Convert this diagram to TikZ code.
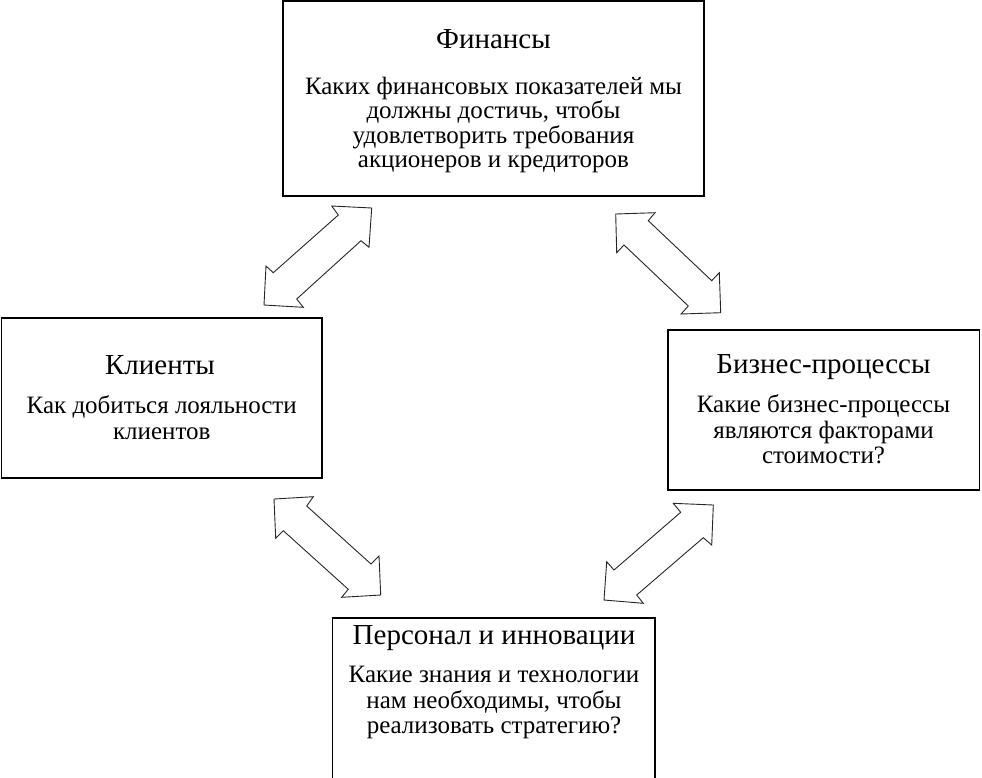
\documentclass[tikz,border=0pt]{standalone}
\usepackage{fontspec}
\setmainfont{Liberation Serif}
\begin{document}
\begin{tikzpicture}[x=1pt,y=-1pt,
  box/.style={draw=black, line width=1.5pt, inner sep=0pt, fill=white},
  ttl/.style={font=\fontsize{29}{31}\selectfont, anchor=base, inner sep=0pt},
  txt/.style={font=\fontsize{25}{27}\selectfont, anchor=base, inner sep=0pt},
  blockarrow/.style={draw=black!85, line width=0.9pt, fill=white, line join=miter}]
\useasboundingbox (0,0) rectangle (982,777);
% boxes
\node[box, minimum width=421pt, minimum height=195pt] (fin) at (493.5,98.5) {};
\node[box, minimum width=320.5pt, minimum height=160pt] (cli) at (161.75,398) {};
\node[box, minimum width=311.5pt, minimum height=160pt] (bus) at (823.75,410) {};
\node[box, minimum width=322.7pt, minimum height=190pt] (per) at (493.65,713) {};
% Finance
\node[ttl] (finT) at (493.5,48) {Финансы};
\node[txt] (finB1) at (493.5,94) {Каких финансовых показателей мы};
\node[txt] (finB2) at (493.5,118.5) {должны достичь, чтобы};
\node[txt] (finB3) at (493.5,143) {удовлетворить требования};
\node[txt] (finB4) at (493.5,167) {акционеров и кредиторов};
% Clients
\node[ttl] (cliT) at (160,374.3) {Клиенты};
\node[txt] (cliB1) at (161.75,413.3) {Как добиться лояльности};
\node[txt] (cliB2) at (161.75,439) {клиентов};
% Business processes
\node[ttl] (busT) at (823.5,373.3) {Бизнес-процессы};
\node[txt] (busB1) at (823.5,412.3) {Какие бизнес-процессы};
\node[txt] (busB2) at (823.5,438.3) {являются факторами};
\node[txt] (busB3) at (823.5,463.3) {стоимости?};
% Personnel
\node[ttl] (perT) at (494,644) {Персонал и инновации};
\node[txt] (perB1) at (494,682.3) {Какие знания и технологии};
\node[txt] (perB2) at (494,708.3) {нам необходимы, чтобы};
\node[txt] (perB3) at (494,733.3) {реализовать стратегию?};
% block arrows
% Clients <-> Finance
\draw[blockarrow] (371.7,208) -- (369,247.3) -- (361,240.7) -- (296.7,299) -- (303.3,307.3)
  -- (264,305) -- (266,266) -- (273.3,272.7) -- (338.3,215) -- (331.7,206) -- cycle;
% Finance <-> Business
\draw[blockarrow] (615.7,214) -- (655,212.7) -- (648.3,220.7) -- (711.7,280.7) -- (719.3,272.7)
  -- (720.7,312.7) -- (681,314) -- (688.3,306) -- (624,245) -- (616.7,252.7) -- cycle;
% Clients <-> Personnel
\draw[blockarrow] (274,499) -- (313.3,496.7) -- (306.7,506) -- (371,564) -- (379,556)
  -- (380.7,595) -- (341.7,597.3) -- (348.3,589.3) -- (283.3,530.7) -- (275.7,538.3) -- cycle;
% Business <-> Personnel
\draw[blockarrow] (713.3,505) -- (711.7,545) -- (703.3,537.7) -- (636.7,595) -- (643.3,603.3)
  -- (604,600) -- (606.7,561.7) -- (614,570) -- (680.7,512.3) -- (673.3,503.3) -- cycle;
\end{tikzpicture}
\end{document}
